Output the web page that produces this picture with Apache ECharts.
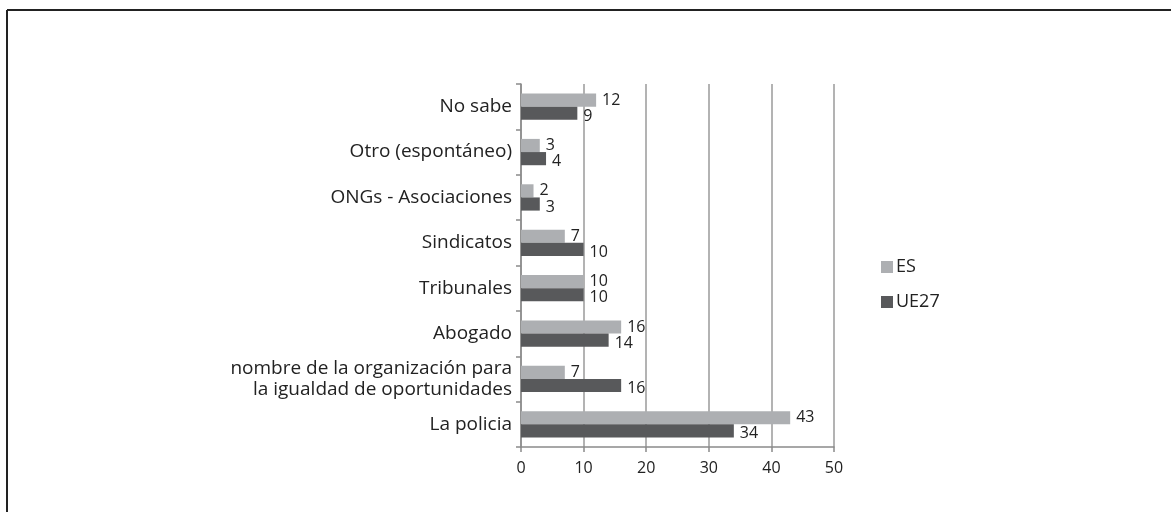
<!DOCTYPE html>
<html>
<head>
<meta charset="utf-8">
<script src="https://cdn.jsdelivr.net/npm/echarts@6/dist/echarts.min.js"></script>
<style>
  html, body { margin: 0; padding: 0; background: #fff; }
  #chart { width: 1171px; height: 512px; }
</style>
</head>
<body>
<div id="chart"></div>
<script>
// categories, bottom to top
var categories = [
  'La policia',
  'nombre de la organización para\nla igualdad de oportunidades',
  'Abogado',
  'Tribunales',
  'Sindicatos',
  'ONGs - Asociaciones',
  'Otro (espontáneo)',
  'No sabe'
];
var esValues   = [43, 7, 16, 10, 7, 2, 3, 12];
var ue27Values = [34, 16, 14, 10, 10, 3, 4, 9];
var xTicks = [0, 10, 20, 30, 40, 50];

var chart = echarts.init(document.getElementById('chart'));
var font = "'Open Sans', sans-serif";
var textCol = '#222';

var option = {
  backgroundColor: '#fff',
  animation: false,

  // frame lines (only top + left are in view)
  graphic: [
    { type: 'line', shape: { x1: 7, y1: 10, x2: 1171, y2: 10 }, style: { stroke: '#222', lineWidth: 2 } },
    { type: 'line', shape: { x1: 7, y1: 10, x2: 7, y2: 512 }, style: { stroke: '#222', lineWidth: 2 } }
  ],

  grid: { left: 521, right: 337, top: 84, bottom: 65 },

  legend: {
    orient: 'vertical',
    left: 876,
    top: 253,
    data: ['ES', 'UE27'],
    itemWidth: 12,
    itemHeight: 12,
    itemGap: 17,
    icon: 'rect',
    textStyle: { fontFamily: font, fontSize: 18, color: textCol, padding: [0, 0, 0, -2] }
  },

  xAxis: {
    type: 'value',
    min: xTicks[0],
    max: xTicks[xTicks.length - 1],
    interval: 10,
    axisLine: { show: true, lineStyle: { color: '#8a8a8a', width: 1.5 } },
    axisTick: { show: true, length: 5, lineStyle: { color: '#8a8a8a', width: 1.5 } },
    axisLabel: { fontFamily: font, fontSize: 16, color: textCol, margin: 13 },
    splitLine: { show: true, lineStyle: { color: '#9a9a9a', width: 1.5 } }
  },

  yAxis: {
    type: 'category',
    data: categories,
    axisLine: { show: true, lineStyle: { color: '#8a8a8a', width: 1.5 } },
    axisTick: { show: true, length: 5, lineStyle: { color: '#8a8a8a', width: 1.5 } },
    axisLabel: { fontFamily: font, fontSize: 19, color: textCol, margin: 9, align: 'right', lineHeight: 21 }
  },

  series: [
    {
      name: 'ES',
      type: 'bar',
      data: esValues,
      barGap: '0%',
      barCategoryGap: '42%',
      itemStyle: { color: '#adafb2' },
      label: { show: true, position: 'right', distance: 6, fontFamily: font, fontSize: 16, color: textCol, offset: [0, 0] }
    },
    {
      name: 'UE27',
      type: 'bar',
      data: ue27Values,
      barGap: '0%',
      barCategoryGap: '42%',
      itemStyle: { color: '#58595b' },
      label: { show: true, position: 'right', distance: 6, fontFamily: font, fontSize: 16, color: textCol, offset: [0, 3] }
    }
  ]
};

chart.setOption(option);
</script>
</body>
</html>
